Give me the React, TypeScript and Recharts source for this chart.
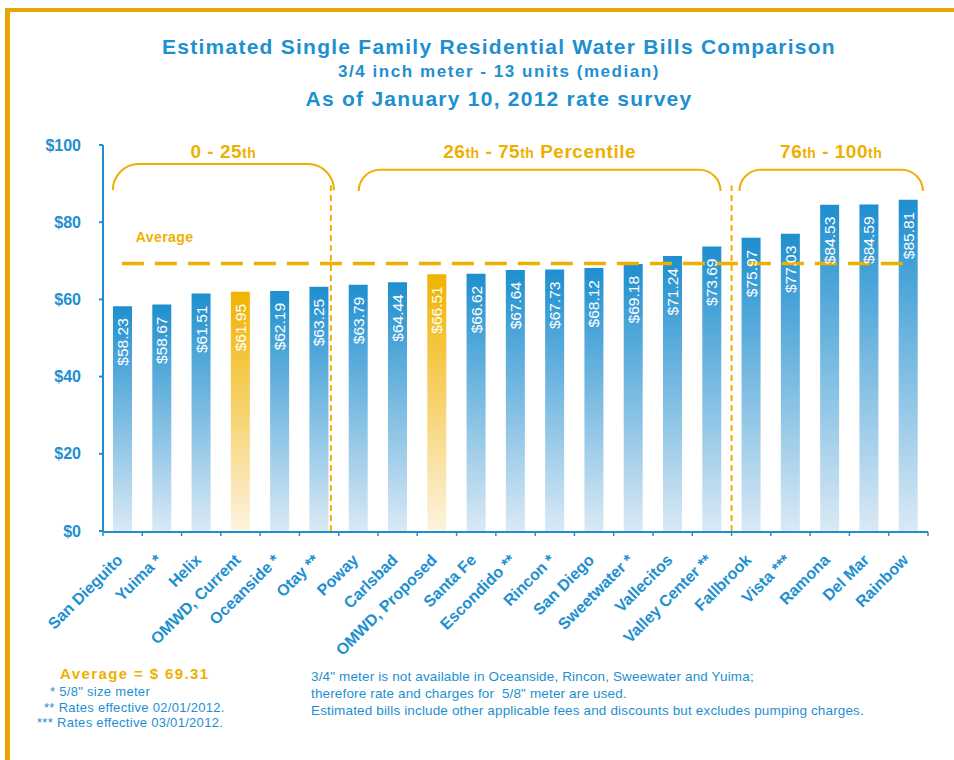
import React from "react";
import { BarChart, Bar, XAxis, YAxis, Cell, LabelList, ReferenceLine, ReferenceArea } from "recharts";

const utilities = ["San Dieguito", "Yuima *", "Helix", "OMWD, Current", "Oceanside *", "Otay **", "Poway", "Carlsbad", "OMWD, Proposed", "Santa Fe", "Escondido **", "Rincon *", "San Diego", "Sweetwater *", "Vallecitos", "Valley Center **", "Fallbrook", "Vista ***", "Ramona", "Del Mar", "Rainbow"];
const bills = [58.23, 58.67, 61.51, 61.95, 62.19, 63.25, 63.79, 64.44, 66.51, 66.62, 67.64, 67.73, 68.12, 69.18, 71.24, 73.69, 75.97, 77.03, 84.53, 84.59, 85.81];
const highlighted = ["OMWD, Current", "OMWD, Proposed"];
const yTicks = [0, 20, 40, 60, 80, 100];
const AVERAGE = 69.31;
// percentile groups, measured in category slots along the x axis
const groups = [
  { from: 0.25, to: 5.88, top: 95.1, bottom: 88.3, parts: ["0 - 25", "th"] },
  { from: 6.51, to: 15.72, top: 93.6, bottom: 88.1, parts: ["26", "th", " - 75", "th", " Percentile"] },
  { from: 16.2, to: 20.87, top: 93.6, bottom: 88.1, parts: ["76", "th", " - 100", "th"] },
];
const dividers = [5.8, 16.0];

const BLUE = "#1E8FCF";
const GOLD = "#EEB000";
const FONT = "'Liberation Sans', Arial, sans-serif";

const data = utilities.map((name, i) => ({ name, bill: bills[i], slot: i + 0.5 }));
const slotTicks = Array.from({ length: utilities.length + 1 }, (_, i) => i);

const ValueLabel = (props: any) => {
  const { x, y, width, value } = props;
  const cx = x + width / 2;
  const ty = y + 12;
  return (
    <text x={cx} y={ty} transform={`rotate(-90, ${cx}, ${ty})`} textAnchor="end" dominantBaseline="central"
      fill="#fff" fontSize={15.5} fontFamily={FONT}>
      {"$" + value.toFixed(2)}
    </text>
  );
};

const NameTick = (props: any) => {
  const { x, y, payload } = props;
  const ax = x + 1;
  const ay = y + 22;
  return (
    <text x={ax} y={ay} transform={`rotate(-45, ${ax}, ${ay})`} textAnchor="end"
      fill={BLUE} fontSize={16} fontWeight="bold" fontFamily={FONT}>
      {payload.value}
    </text>
  );
};

const bracketShape = (g: any, gap: number) => (props: any) => {
  const { x, y, width, height } = props;
  const r = Math.min(26, height);
  const d = `M${x},${y + height} C${x},${y + height - r * 0.55} ${x + r * 0.45},${y} ${x + r},${y} L${x + width - r},${y} C${x + width - r * 0.45},${y} ${x + width},${y + height - r * 0.55} ${x + width},${y + height}`;
  return (
    <g>
      <path d={d} fill="none" stroke={GOLD} strokeWidth={2} />
      <text x={x + width / 2} y={y - gap} textAnchor="middle" fill={GOLD} fontWeight="bold" fontFamily={FONT}
        fontSize={19} letterSpacing={0.5}>
        {g.parts.map((p: string, i: number) => (
          <tspan key={i} fontSize={p === "th" ? 14 : 19}>{p}</tspan>
        ))}
      </text>
    </g>
  );
};

const AverageLabel = (props: any) => {
  const { viewBox } = props;
  return (
    <text x={viewBox.x + 14} y={viewBox.y - 21} fill={GOLD} fontSize={14} fontWeight="bold" fontFamily={FONT} letterSpacing={0.4}>
      Average
    </text>
  );
};

export default function App() {
  return (
    <div style={{ position: "absolute", left: 0, top: 0, width: 954, height: 760, background: "#fff", fontFamily: FONT, overflow: "hidden" }}>
      <div style={{ position: "absolute", left: 5, top: 8, width: 960, height: 760, borderTop: `4px solid #E8A600`, borderLeft: `5px solid #E8A600` }} />
      <div style={{ position: "absolute", left: 0, width: 998, top: 34, textAlign: "center", color: BLUE, fontWeight: "bold" }}>
        <div style={{ fontSize: 21, lineHeight: "26px", letterSpacing: 1.25 }}>Estimated Single Family Residential Water Bills Comparison</div>
        <div style={{ fontSize: 17, lineHeight: "20px", letterSpacing: 1.55, marginTop: 2 }}>3/4 inch meter - 13 units (median)</div>
        <div style={{ fontSize: 21, lineHeight: "26px", marginTop: 4, letterSpacing: 1.25 }}>As of January 10, 2012 rate survey</div>
      </div>
      <BarChart width={954} height={760} data={data} margin={{ top: 145, right: 26, bottom: 227, left: 42 }}
        style={{ position: "absolute", left: 0, top: 0 }}>
        <defs>
          <linearGradient id="blueFade" x1="0" y1="0" x2="0" y2="1">
            <stop offset="0%" stopColor="#1E8FCF" />
            <stop offset="100%" stopColor="#DAE9F5" />
          </linearGradient>
          <linearGradient id="goldFade" x1="0" y1="0" x2="0" y2="1">
            <stop offset="0%" stopColor="#F0B300" />
            <stop offset="100%" stopColor="#FDF3DF" />
          </linearGradient>
        </defs>
        <XAxis xAxisId="n" dataKey="slot" type="number" domain={[0, utilities.length]} ticks={slotTicks} interval={0}
          allowDataOverflow height={1} tickFormatter={() => ""} tickSize={4}
          axisLine={{ stroke: BLUE, strokeWidth: 2 }} tickLine={{ stroke: BLUE, strokeWidth: 1.5 }} />
        <XAxis xAxisId="c" dataKey="name" type="category" interval={0} height={1} axisLine={false} tickLine={false}
          tick={<NameTick />} />
        <YAxis domain={[0, 100]} ticks={yTicks} width={61} tickSize={4} tickMargin={18}
          axisLine={{ stroke: BLUE, strokeWidth: 2 }} tickLine={{ stroke: BLUE, strokeWidth: 2 }}
          tick={{ fill: BLUE, fontSize: 16, fontWeight: "bold", fontFamily: FONT }}
          tickFormatter={(v: number) => "$" + v} />
        <Bar xAxisId="c" dataKey="bill" barSize={19} isAnimationActive={false}>
          {data.map((d) => (
            <Cell key={d.name} fill={highlighted.includes(d.name) ? "url(#goldFade)" : "url(#blueFade)"} />
          ))}
          <LabelList dataKey="bill" content={<ValueLabel />} />
        </Bar>
        {dividers.map((x) => (
          <ReferenceLine key={x} xAxisId="n" segment={[{ x, y: 0 }, { x, y: 89.5 }]} stroke={GOLD} strokeWidth={2}
            strokeDasharray="6 4" ifOverflow="visible" />
        ))}
        <ReferenceLine xAxisId="n" segment={[{ x: 0.48, y: AVERAGE }, { x: 20.5, y: AVERAGE }]} stroke={GOLD}
          strokeWidth={3.5} strokeDasharray="22 11" ifOverflow="visible" label={<AverageLabel />} />
        {groups.map((g, i) => (
          <ReferenceArea key={i} xAxisId="n" x1={g.from} x2={g.to} y1={g.bottom} y2={g.top} ifOverflow="visible"
            shape={bracketShape(g, i === 0 ? 6 : 12)} />
        ))}
      </BarChart>
      <div style={{ position: "absolute", left: 60, top: 665, color: GOLD, fontWeight: "bold", fontSize: 15, letterSpacing: 1.4 }}>Average = $ 69.31</div>
      <div style={{ position: "absolute", left: 50, top: 684, color: BLUE, fontSize: 13, letterSpacing: 0.3 }}>* 5/8" size meter</div>
      <div style={{ position: "absolute", left: 44, top: 700, color: BLUE, fontSize: 13, letterSpacing: 0.3 }}>** Rates effective 02/01/2012.</div>
      <div style={{ position: "absolute", left: 37, top: 715, color: BLUE, fontSize: 13, letterSpacing: 0.3 }}>*** Rates effective 03/01/2012.</div>
      <div style={{ position: "absolute", left: 311, top: 668, color: BLUE, fontSize: 13.5, lineHeight: "17px", letterSpacing: 0.15 }}>
        <div>3/4" meter is not available in Oceanside, Rincon, Sweewater and Yuima;</div>
        <div>therefore rate and charges for&nbsp; 5/8" meter are used.</div>
        <div>Estimated bills include other applicable fees and discounts but excludes pumping charges.</div>
      </div>
    </div>
  );
}
